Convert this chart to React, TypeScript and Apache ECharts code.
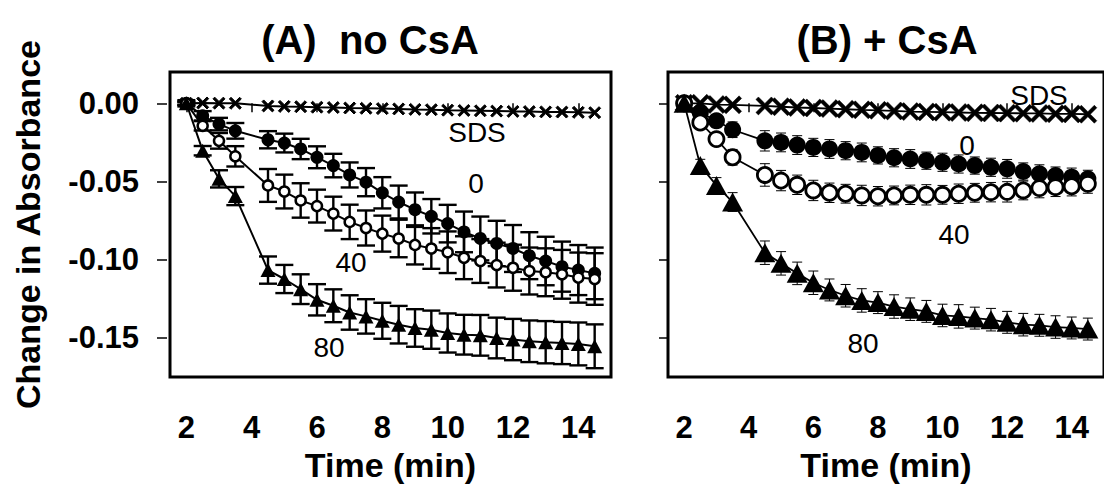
import React, { useEffect, useRef } from "react";
import * as echarts from "echarts";

const times = [2, 2.5, 3, 3.5, 4.5, 5, 5.5, 6, 6.5, 7, 7.5, 8, 8.5, 9, 9.5, 10, 10.5, 11, 11.5, 12, 12.5, 13, 13.5, 14, 14.5];

const xTicks = [2, 4, 6, 8, 10, 12, 14];
const yTicks = [0, -0.05, -0.1, -0.15];

// Panel A: no CsA
const aSDS = [0, 0.0002, 0.0001, 0.0, -0.0017, -0.002, -0.0022, -0.0025, -0.0027, -0.003, -0.0032, -0.0034, -0.0036, -0.0039, -0.0041, -0.0044, -0.0046, -0.0048, -0.005, -0.0052, -0.0053, -0.0055, -0.0056, -0.0058, -0.006];
const a0 = [0, -0.008, -0.0133, -0.0176, -0.0233, -0.0254, -0.0292, -0.0345, -0.0398, -0.0458, -0.0504, -0.0572, -0.0631, -0.068, -0.0722, -0.0769, -0.0822, -0.0864, -0.0896, -0.0928, -0.0974, -0.1008, -0.1044, -0.1066, -0.1087];
const a0Err = [0.001, 0.003, 0.004, 0.005, 0.0055, 0.006, 0.0065, 0.007, 0.0075, 0.008, 0.009, 0.01, 0.0105, 0.011, 0.011, 0.012, 0.013, 0.014, 0.0145, 0.015, 0.015, 0.0155, 0.016, 0.016, 0.0165];
const a40 = [0, -0.0144, -0.024, -0.0339, -0.0525, -0.0564, -0.0621, -0.0657, -0.0705, -0.0758, -0.0797, -0.0833, -0.0864, -0.0905, -0.0928, -0.0952, -0.0987, -0.1008, -0.1034, -0.1051, -0.1072, -0.108, -0.1093, -0.1114, -0.1123];
const a40Err = [0.001, 0.003, 0.005, 0.0065, 0.0105, 0.0108, 0.011, 0.0105, 0.0108, 0.011, 0.0112, 0.0115, 0.012, 0.0125, 0.013, 0.0133, 0.0137, 0.014, 0.0143, 0.0147, 0.015, 0.0153, 0.0156, 0.016, 0.0165];
const a80 = [0, -0.0303, -0.0483, -0.0593, -0.1066, -0.1123, -0.1188, -0.1256, -0.1294, -0.1337, -0.1362, -0.139, -0.1415, -0.1436, -0.1447, -0.1468, -0.1479, -0.1483, -0.15, -0.151, -0.1521, -0.1527, -0.1532, -0.1538, -0.1553];
const a80Err = [0.002, 0.003, 0.0055, 0.0058, 0.0087, 0.009, 0.0095, 0.01, 0.0105, 0.011, 0.011, 0.0115, 0.012, 0.012, 0.0122, 0.0125, 0.0127, 0.013, 0.013, 0.0132, 0.0133, 0.0135, 0.0135, 0.0137, 0.014];

// Panel B: + CsA
const bSDS = [0, 0, -0.0008, -0.001, -0.0017, -0.0022, -0.0027, -0.003, -0.0034, -0.0038, -0.0042, -0.0045, -0.0049, -0.0053, -0.0055, -0.0057, -0.0059, -0.0061, -0.0062, -0.0063, -0.0064, -0.0065, -0.0067, -0.0068, -0.007];
const b0 = [0, -0.006, -0.0112, -0.0169, -0.024, -0.025, -0.0267, -0.0282, -0.0292, -0.0303, -0.0314, -0.0333, -0.0348, -0.0356, -0.0367, -0.0377, -0.0388, -0.0398, -0.0409, -0.0419, -0.0436, -0.0451, -0.0462, -0.0472, -0.0483];
const b0Err = [0.001, 0.003, 0.004, 0.005, 0.0065, 0.006, 0.006, 0.0058, 0.006, 0.0058, 0.006, 0.0055, 0.0058, 0.006, 0.0055, 0.0058, 0.0058, 0.0055, 0.0058, 0.006, 0.0055, 0.0058, 0.0055, 0.0058, 0.0055];
const b40 = [0, -0.0123, -0.0229, -0.0345, -0.0458, -0.0494, -0.0521, -0.0557, -0.0572, -0.0578, -0.0589, -0.0594, -0.0589, -0.0585, -0.0585, -0.0585, -0.0578, -0.0572, -0.0568, -0.0566, -0.0557, -0.0542, -0.0536, -0.053, -0.0515];
const b40Err = [0.001, 0.003, 0.004, 0.005, 0.0072, 0.0065, 0.0062, 0.0065, 0.0062, 0.006, 0.0065, 0.0062, 0.006, 0.0062, 0.0065, 0.006, 0.0062, 0.006, 0.0062, 0.0065, 0.006, 0.0062, 0.006, 0.0062, 0.006];
const b80 = [0, -0.0398, -0.0525, -0.0631, -0.0955, -0.1023, -0.1087, -0.1147, -0.1193, -0.123, -0.126, -0.1274, -0.1299, -0.1316, -0.133, -0.1356, -0.1362, -0.1373, -0.1383, -0.14, -0.1415, -0.1419, -0.143, -0.1436, -0.1443];
const b80Err = [0.001, 0.004, 0.005, 0.006, 0.0075, 0.0075, 0.0072, 0.0075, 0.007, 0.0072, 0.0075, 0.007, 0.0075, 0.0072, 0.007, 0.0072, 0.0075, 0.007, 0.0072, 0.007, 0.0072, 0.007, 0.0072, 0.007, 0.007];

const titles = ["(A)  no CsA", "(B) + CsA"];
const seriesLabels = ["SDS", "0", "40", "80"];

const FONT = '"Liberation Sans", Arial, Helvetica, sans-serif';
const CROSS = "path://M0,1.4L1.4,0L5,3.6L8.6,0L10,1.4L6.4,5L10,8.6L8.6,10L5,6.4L1.4,10L0,8.6L3.6,5Z";

function pairs(v: number[]) {
  return times.map((t, i) => [t, v[i]]);
}
function errData(v: number[], e: number[]) {
  return times.map((t, i) => [t, v[i] - e[i], v[i] + e[i]]);
}

function errRender(capHalf: number, lw: number) {
  return (params: any, api: any) => {
    const x = api.value(0);
    const lo = api.coord([x, api.value(1)]);
    const hi = api.coord([x, api.value(2)]);
    const style = { stroke: "#000", lineWidth: lw };
    return {
      type: "group",
      children: [
        { type: "line", shape: { x1: hi[0], y1: hi[1], x2: lo[0], y2: lo[1] }, style },
        { type: "line", shape: { x1: hi[0] - capHalf, y1: hi[1], x2: hi[0] + capHalf, y2: hi[1] }, style },
        { type: "line", shape: { x1: lo[0] - capHalf, y1: lo[1], x2: lo[0] + capHalf, y2: lo[1] }, style },
      ],
    };
  };
}

export default function App() {
  const ref = useRef<HTMLDivElement>(null);
  useEffect(() => {
    if (!ref.current) return;
    const chart = echarts.init(ref.current, null, { renderer: "svg" });

    const labelStyle = { fontSize: 31, fontWeight: "bold", color: "#000", fontFamily: FONT };
    const nameStyle = { fontSize: 34, fontWeight: "bold", color: "#000", fontFamily: FONT };

    const xAxisCfg = (gi: number) => ({
      type: "value",
      gridIndex: gi,
      min: 1.5,
      max: 15,
      offset: 5,
      axisLine: { show: false },
      axisTick: { show: true, length: 9, customValues: xTicks, lineStyle: { color: "#000", width: 1.5 } },
      axisLabel: { customValues: xTicks, margin: 30, ...labelStyle },
      splitLine: { show: false },
      name: "Time (min)",
      nameLocation: "middle",
      nameGap: 63,
      nameTextStyle: nameStyle,
    });
    const yAxisCfg = (gi: number) => ({
      type: "value",
      gridIndex: gi,
      min: -0.175,
      max: 0.02,
      offset: gi === 0 ? 3 : 1,
      axisLine: { show: false },
      axisTick: { show: true, length: gi === 0 ? 10 : 8, customValues: yTicks, lineStyle: { color: "#000", width: 1.5 } },
      axisLabel: {
        show: gi === 0,
        customValues: yTicks,
        formatter: (v: number) => v.toFixed(2),
        margin: 28,
        ...labelStyle,
      },
      splitLine: { show: false },
      name: gi === 0 ? "Change in Absorbance" : "",
      nameLocation: "middle",
      nameRotate: 90,
      nameGap: 122,
      nameTextStyle: nameStyle,
    });

    const lineSeries = (gi: number, data: number[], sym: any, size: any, itemStyle: any, z: number, lw: number) => ({
      type: "line",
      xAxisIndex: gi,
      yAxisIndex: gi,
      data: pairs(data),
      symbol: sym,
      symbolSize: size,
      showAllSymbol: true,
      lineStyle: { color: "#000", width: lw },
      itemStyle,
      z,
    });
    const errSeries = (gi: number, v: number[], e: number[], capHalf: number, lw: number) => ({
      type: "custom",
      xAxisIndex: gi,
      yAxisIndex: gi,
      data: errData(v, e),
      encode: { x: 0, y: [1, 2] },
      renderItem: errRender(capHalf, lw),
      z: 1,
    });

    const filled = { color: "#000" };
    const openA = { color: "#fff", borderColor: "#000", borderWidth: 2.5 };
    const openB = { color: "#fff", borderColor: "#000", borderWidth: 2.8 };
    const crossA = { color: "#000", borderColor: "#000", borderWidth: 1 };
    const crossB = { color: "#000", borderColor: "#000", borderWidth: 0.5 };

    const annot = (text: string, x: number, y: number) => ({
      type: "text",
      x,
      y,
      style: { text, fontSize: 28, fontFamily: FONT, fill: "#000", align: "center", verticalAlign: "middle" },
      z: 10,
    });
    const title = (text: string, x: number) => ({
      type: "text",
      x,
      y: 40,
      style: { text, fontSize: 40, fontWeight: "bold", fontFamily: FONT, fill: "#000", align: "center", verticalAlign: "middle" },
      z: 10,
    });

    chart.setOption({
      animation: false,
      backgroundColor: "#fff",
      grid: [
        { left: 170, top: 72, width: 441, height: 307, show: true, borderColor: "#000", borderWidth: 3, backgroundColor: "transparent" },
        { left: 668, top: 72, width: 443, height: 307, show: true, borderColor: "#000", borderWidth: 3, backgroundColor: "transparent" },
      ],
      xAxis: [xAxisCfg(0), xAxisCfg(1)],
      yAxis: [yAxisCfg(0), yAxisCfg(1)],
      series: [
        errSeries(0, a0, a0Err, 9, 2.4),
        errSeries(0, a40, a40Err, 9, 2.4),
        errSeries(0, a80, a80Err, 9, 2.4),
        lineSeries(0, aSDS, CROSS, 12, crossA, 2, 2),
        lineSeries(0, a0, "circle", 13, filled, 3, 2),
        lineSeries(0, a40, "circle", 10, openA, 4, 2),
        lineSeries(0, a80, "triangle", [15, 14], filled, 5, 2),
        errSeries(1, b0, b0Err, 5, 1),
        errSeries(1, b40, b40Err, 5, 1),
        errSeries(1, b80, b80Err, 5, 1),
        lineSeries(1, bSDS, CROSS, 18, crossB, 2, 1.8),
        lineSeries(1, b0, "circle", 17, filled, 3, 1.8),
        lineSeries(1, b40, "circle", 15, openB, 4, 1.8),
        lineSeries(1, b80, "triangle", [21, 19], filled, 5, 1.8),
      ],
      graphic: [
        title(titles[0], 370),
        title(titles[1], 887),
        annot(seriesLabels[0], 477, 132),
        annot(seriesLabels[1], 476, 183),
        annot(seriesLabels[2], 351, 262),
        annot(seriesLabels[3], 329, 347),
        annot(seriesLabels[0], 1039, 95),
        annot(seriesLabels[1], 967, 145),
        annot(seriesLabels[2], 954, 234),
        annot(seriesLabels[3], 863, 343),
      ],
    });
    return () => chart.dispose();
  }, []);
  return <div ref={ref} style={{ position: "absolute", left: 0, top: 0, width: 1104, height: 487 }} />;
}
